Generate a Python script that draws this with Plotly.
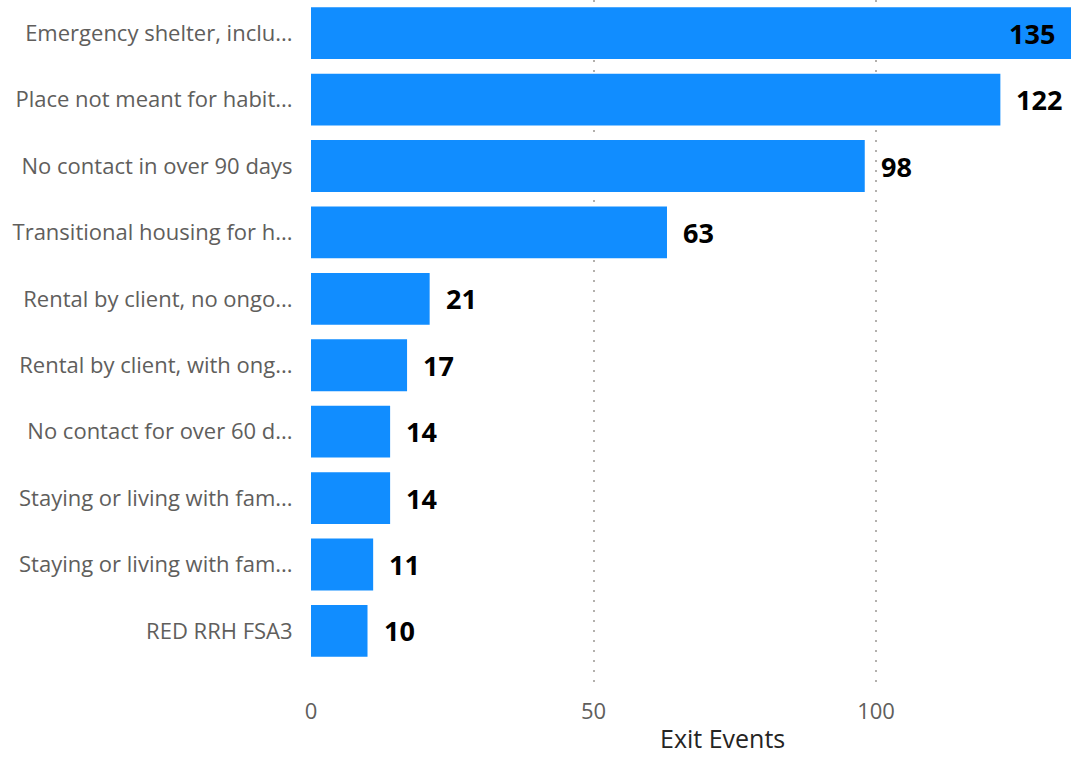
import plotly.graph_objects as go

categories = [
    "Emergency shelter, inclu...",
    "Place not meant for habit...",
    "No contact in over 90 days",
    "Transitional housing for h...",
    "Rental by client, no ongo...",
    "Rental by client, with ong...",
    "No contact for over 60 d...",
    "Staying or living with fam...",
    "Staying or living with fam...",
    "RED RRH FSA3",
]
values = [135, 122, 98, 63, 21, 17, 14, 14, 11, 10]
x_ticks = [0, 50, 100]
x_max = 134.5
axis_title = "Exit Events"

ids = list(range(len(categories)))

fig = go.Figure()
fig.add_trace(go.Bar(
    x=values, y=ids, orientation="h",
    marker=dict(color="#118DFF", line=dict(width=0)),
    hoverinfo="x+y",
))

label_font = dict(family="Open Sans", size=27, color="#000000")
annotations = []
for i, v in zip(ids, values):
    if v > x_max:
        annotations.append(dict(x=x_max, y=i, xref="x", yref="y", text=f"<b>{v}</b>",
                                showarrow=False, xanchor="right", xshift=-14, font=label_font))
    else:
        annotations.append(dict(x=v, y=i, xref="x", yref="y", text=f"<b>{v}</b>",
                                showarrow=False, xanchor="left", xshift=14, font=label_font))
annotations.append(dict(x=0.542, y=0, xref="paper", yref="paper", yshift=-50,
                        text=axis_title, showarrow=False, xanchor="center", yanchor="middle",
                        borderpad=0,
                        font=dict(family="Open Sans", size=25, color="#252423")))

fig.update_layout(
    width=1071, height=757,
    margin=dict(l=311, r=0, t=0, b=69),
    paper_bgcolor="white", plot_bgcolor="white",
    bargap=0.22,
    showlegend=False,
    annotations=annotations,
    xaxis=dict(
        range=[0, x_max], tickvals=x_ticks, ticktext=[str(t) for t in x_ticks],
        showgrid=True, gridcolor="#B3B0AD", gridwidth=1.5, griddash="1.5px,8.5px",
        zeroline=False, showline=False,
        ticks="outside", ticklen=4, tickcolor="rgba(0,0,0,0)",
        tickfont=dict(family="Open Sans", size=22, color="#605E5C"),
    ),
    yaxis=dict(
        range=[9.86, -0.5], tickvals=ids, ticktext=categories,
        showgrid=False, zeroline=False, showline=False,
        ticks="outside", ticklen=13, tickcolor="rgba(0,0,0,0)",
        tickfont=dict(family="Open Sans", size=22, color="#605E5C"),
    ),
)

fig.write_html("out.html")
